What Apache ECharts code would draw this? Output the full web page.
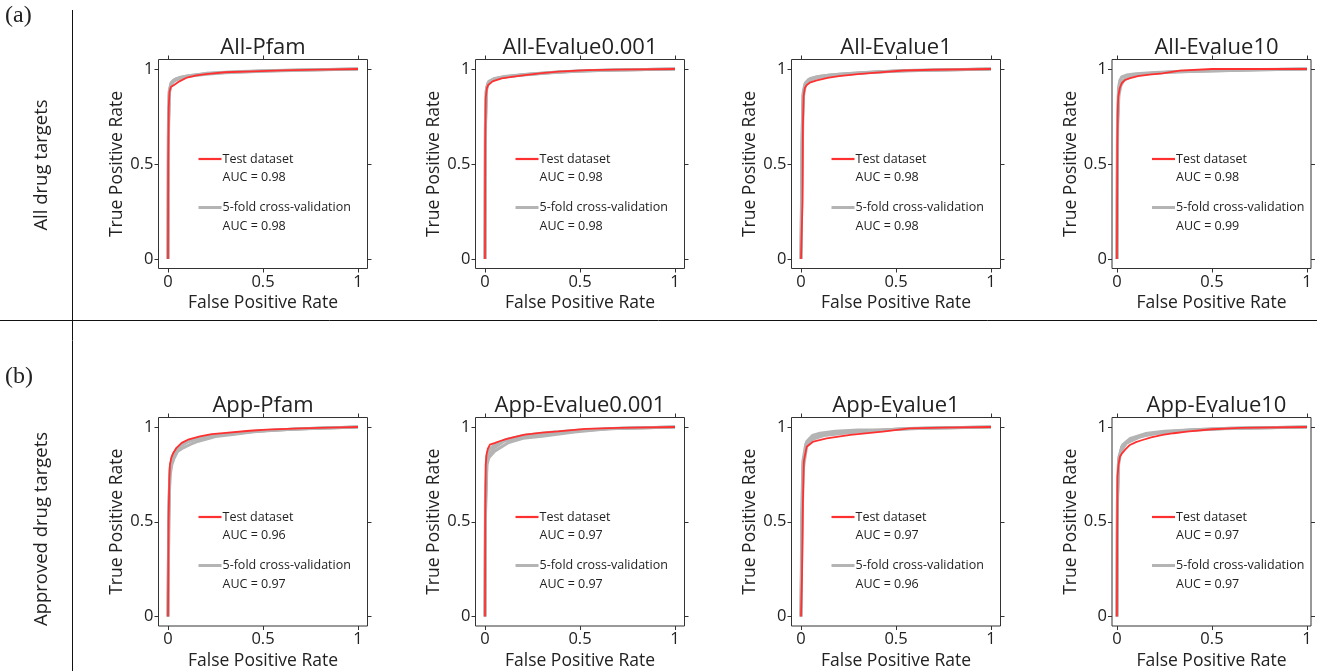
<!DOCTYPE html>
<html>
<head>
<meta charset="utf-8">
<script src="https://cdn.jsdelivr.net/npm/echarts@6/dist/echarts.min.js"></script>
<style>html,body{margin:0;padding:0;background:#fff}#c{width:1317px;height:671px}</style>
</head>
<body>
<div id="c"></div>
<script>
// ---------------- DATA ----------------
const titles = ["All-Pfam","All-Evalue0.001","All-Evalue1","All-Evalue10","App-Pfam","App-Evalue0.001","App-Evalue1","App-Evalue10"];
const testAUC = [0.98,0.98,0.98,0.98,0.96,0.97,0.97,0.97];
const cvAUC   = [0.98,0.98,0.98,0.99,0.97,0.97,0.96,0.97];
const tickValues = [0, 0.5, 1];
const rowLabels = ["All drug targets","Approved drug targets"];
const panelTags = ["(a)","(b)"];

// All-Pfam
const allPfamTest = [[0,0],[0.001,0.5],[0.004,0.8],[0.008,0.88],[0.015,0.905],[0.03,0.915],[0.06,0.935],[0.1,0.955],[0.15,0.966],[0.2,0.973],[0.3,0.983],[0.45,0.988],[0.6,0.993],[0.8,0.997],[1,1]];
const allPfamCV1 = [[0,0],[0.002,0.7],[0.006,0.88],[0.015,0.925],[0.03,0.942],[0.06,0.955],[0.1,0.963],[0.2,0.975],[0.3,0.982],[0.5,0.99],[0.7,0.995],[1,1]];
const allPfamCV2 = [[0,0],[0.002,0.65],[0.007,0.87],[0.015,0.915],[0.03,0.935],[0.06,0.95],[0.1,0.96],[0.2,0.972],[0.3,0.98],[0.5,0.988],[0.7,0.994],[1,1]];
const allPfamCV3 = [[0,0],[0.003,0.72],[0.008,0.89],[0.02,0.93],[0.04,0.948],[0.08,0.958],[0.12,0.966],[0.2,0.977],[0.35,0.985],[0.5,0.991],[0.75,0.996],[1,1]];
// All-Evalue0.001
const allE0001Test = [[0,0],[0.001,0.6],[0.004,0.85],[0.01,0.9],[0.017,0.916],[0.04,0.935],[0.088,0.951],[0.15,0.96],[0.21,0.968],[0.3,0.978],[0.385,0.986],[0.54,0.994],[0.7,0.997],[1,1]];
const allE0001CV1 = [[0,0],[0.002,0.7],[0.006,0.88],[0.015,0.925],[0.04,0.945],[0.09,0.957],[0.2,0.97],[0.35,0.982],[0.5,0.99],[0.7,0.995],[1,1]];
const allE0001CV2 = [[0,0],[0.002,0.68],[0.007,0.89],[0.02,0.93],[0.05,0.948],[0.1,0.958],[0.2,0.968],[0.35,0.98],[0.5,0.989],[0.7,0.995],[1,1]];
const allE0001CV3 = [[0,0],[0.003,0.72],[0.008,0.9],[0.02,0.935],[0.05,0.95],[0.1,0.96],[0.22,0.972],[0.4,0.985],[0.6,0.993],[1,1]];
// All-Evalue1
const allE1Test = [[0,0],[0.008,0.3],[0.01,0.7],[0.014,0.86],[0.02,0.9],[0.03,0.916],[0.05,0.93],[0.083,0.94],[0.14,0.953],[0.2,0.963],[0.3,0.973],[0.38,0.98],[0.54,0.992],[0.7,0.996],[1,1]];
const allE1CV1 = [[0,0],[0.005,0.6],[0.01,0.86],[0.02,0.92],[0.04,0.945],[0.08,0.958],[0.15,0.968],[0.25,0.976],[0.4,0.985],[0.6,0.993],[1,1]];
const allE1CV2 = [[0,0],[0.006,0.65],[0.012,0.88],[0.025,0.93],[0.05,0.95],[0.1,0.962],[0.2,0.972],[0.35,0.982],[0.55,0.991],[1,1]];
const allE1CV3 = [[0,0],[0.007,0.6],[0.012,0.85],[0.022,0.91],[0.04,0.938],[0.08,0.952],[0.15,0.965],[0.3,0.978],[0.5,0.99],[1,1]];
// All-Evalue10
const allE10Test = [[0,0],[0.002,0.6],[0.005,0.8],[0.007,0.854],[0.015,0.9],[0.025,0.925],[0.042,0.942],[0.07,0.952],[0.11,0.963],[0.17,0.97],[0.24,0.977],[0.33,0.991],[0.5,1],[1,1]];
const allE10CV1 = [[0,0],[0.003,0.75],[0.008,0.9],[0.015,0.94],[0.025,0.958],[0.05,0.968],[0.1,0.975],[0.2,0.982],[0.35,0.988],[0.55,0.993],[0.75,0.997],[1,1]];
const allE10CV2 = [[0,0],[0.003,0.72],[0.01,0.88],[0.02,0.925],[0.04,0.95],[0.08,0.965],[0.15,0.975],[0.3,0.985],[0.5,0.99],[0.75,0.996],[1,1]];
const allE10CV3 = [[0,0],[0.004,0.7],[0.01,0.86],[0.02,0.91],[0.035,0.94],[0.07,0.96],[0.12,0.972],[0.25,0.982],[0.45,0.99],[0.7,0.995],[1,1]];
// App-Pfam
const appPfamTest = [[0,0],[0.003,0.5],[0.007,0.72],[0.01,0.8],[0.018,0.84],[0.028,0.863],[0.045,0.89],[0.072,0.916],[0.11,0.935],[0.168,0.951],[0.23,0.962],[0.29,0.968],[0.43,0.98],[0.52,0.986],[0.7,0.993],[0.85,0.997],[1,1]];
const appPfamCV1 = [[0,0],[0.004,0.5],[0.01,0.74],[0.02,0.8],[0.03,0.83],[0.05,0.87],[0.08,0.89],[0.12,0.91],[0.16,0.925],[0.25,0.95],[0.34,0.96],[0.45,0.975],[0.6,0.985],[0.8,0.995],[1,1]];
const appPfamCV2 = [[0,0],[0.004,0.55],[0.01,0.77],[0.02,0.83],[0.035,0.865],[0.06,0.895],[0.1,0.92],[0.15,0.938],[0.25,0.955],[0.35,0.967],[0.5,0.98],[0.7,0.99],[1,1]];
const appPfamCV3 = [[0,0],[0.005,0.6],[0.012,0.79],[0.025,0.85],[0.045,0.885],[0.07,0.905],[0.11,0.925],[0.18,0.945],[0.3,0.962],[0.45,0.977],[0.65,0.988],[1,1]];
// App-Evalue0.001
const appE0001Test = [[0,0],[0.001,0.5],[0.004,0.8],[0.008,0.854],[0.015,0.885],[0.026,0.907],[0.053,0.916],[0.08,0.926],[0.12,0.938],[0.21,0.96],[0.3,0.97],[0.385,0.977],[0.53,0.99],[0.7,0.995],[1,1]];
const appE0001CV1 = [[0,0],[0.003,0.55],[0.01,0.8],[0.02,0.837],[0.053,0.874],[0.12,0.916],[0.2,0.94],[0.3,0.951],[0.47,0.974],[0.65,0.99],[1,1]];
const appE0001CV2 = [[0,0],[0.003,0.6],[0.01,0.82],[0.025,0.86],[0.05,0.89],[0.1,0.925],[0.2,0.95],[0.3,0.962],[0.45,0.978],[0.65,0.99],[1,1]];
const appE0001CV3 = [[0,0],[0.002,0.6],[0.008,0.84],[0.02,0.88],[0.05,0.905],[0.1,0.93],[0.2,0.955],[0.35,0.972],[0.5,0.984],[0.7,0.993],[1,1]];
// App-Evalue1
const appE1Test = [[0,0],[0.005,0.2],[0.01,0.6],[0.015,0.82],[0.03,0.896],[0.065,0.923],[0.135,0.94],[0.26,0.958],[0.43,0.975],[0.57,0.993],[0.75,0.997],[1,1]];
const appE1CV1 = [[0,0],[0.005,0.5],[0.01,0.8],[0.03,0.923],[0.06,0.955],[0.1,0.967],[0.18,0.978],[0.3,0.984],[0.45,0.986],[0.6,0.993],[1,1]];
const appE1CV2 = [[0,0],[0.004,0.55],[0.01,0.82],[0.025,0.91],[0.05,0.94],[0.1,0.958],[0.2,0.97],[0.35,0.98],[0.5,0.988],[0.7,0.995],[1,1]];
const appE1CV3 = [[0,0],[0.006,0.5],[0.012,0.78],[0.03,0.9],[0.06,0.935],[0.12,0.955],[0.25,0.97],[0.4,0.982],[0.55,0.99],[1,1]];
// App-Evalue10
const appE10Test = [[0,0],[0.001,0.4],[0.003,0.738],[0.008,0.8],[0.016,0.844],[0.03,0.865],[0.042,0.879],[0.068,0.905],[0.1,0.92],[0.13,0.93],[0.18,0.945],[0.24,0.958],[0.3,0.967],[0.367,0.975],[0.5,0.988],[0.65,0.995],[1,1]];
const appE10CV1 = [[0,0],[0.003,0.6],[0.008,0.82],[0.025,0.896],[0.068,0.93],[0.156,0.958],[0.26,0.975],[0.4,0.985],[0.6,0.993],[1,1]];
const appE10CV2 = [[0,0],[0.003,0.65],[0.01,0.84],[0.03,0.905],[0.07,0.94],[0.15,0.965],[0.25,0.978],[0.4,0.986],[0.6,0.993],[1,1]];
const appE10CV3 = [[0,0],[0.002,0.6],[0.008,0.8],[0.02,0.87],[0.05,0.915],[0.12,0.948],[0.2,0.965],[0.35,0.98],[0.55,0.99],[1,1]];

const testCurves = [allPfamTest, allE0001Test, allE1Test, allE10Test, appPfamTest, appE0001Test, appE1Test, appE10Test];
const cvCurves = [
  [allPfamCV1, allPfamCV2, allPfamCV3],
  [allE0001CV1, allE0001CV2, allE0001CV3],
  [allE1CV1, allE1CV2, allE1CV3],
  [allE10CV1, allE10CV2, allE10CV3],
  [appPfamCV1, appPfamCV2, appPfamCV3],
  [appE0001CV1, appE0001CV2, appE0001CV3],
  [appE1CV1, appE1CV2, appE1CV3],
  [appE10CV1, appE10CV2, appE10CV3]
];

// ---------------- LAYOUT ----------------
const FONT = "Open Sans";
const TXT = '#222';
const colLeft = [158.5, 475.5, 791.5, 1112];
const colWidth = [209, 209, 209, 199];
const colXMin = [-0.05, -0.05, -0.05, -0.026];
const colXMax = [1.05, 1.05, 1.05, 1.021];
const rowTop = [59.5, 417.5];
const boxH = 209;
const yMin = -0.05, yMax = 1.05;

const chart = echarts.init(document.getElementById('c'), null, {renderer: 'canvas'});

const grids = [], xAxes = [], yAxes = [], series = [], graphics = [];
const tickStyle = {show: true, inside: false, length: 4, customValues: tickValues, lineStyle: {color: '#333', width: 1}};
const noLine = {show: false, onZero: false};

for (let p = 0; p < 8; p++) {
  const r = Math.floor(p / 4), c = p % 4;
  const left = colLeft[c], top = rowTop[r], w = colWidth[c];
  grids.push({left: left, top: top, width: w, height: boxH, show: true, borderColor: '#333', borderWidth: 1, backgroundColor: 'transparent'});
  const xb = {
    type: 'value', gridIndex: p, min: colXMin[c], max: colXMax[c], position: 'bottom',
    axisLine: noLine, splitLine: {show: false}, axisTick: tickStyle,
    axisLabel: {show: true, customValues: tickValues, fontSize: 16.5, fontFamily: FONT, color: TXT, margin: 5, formatter: v => String(v)},
    name: 'False Positive Rate', nameLocation: 'middle', nameGap: 26,
    nameTextStyle: {fontSize: 17.5, fontFamily: FONT, color: TXT}
  };
  const xt = {
    type: 'value', gridIndex: p, min: colXMin[c], max: colXMax[c], position: 'top',
    axisLine: noLine, splitLine: {show: false}, axisTick: tickStyle, axisLabel: {show: false}
  };
  const yl = {
    type: 'value', gridIndex: p, min: yMin, max: yMax, position: 'left',
    axisLine: noLine, splitLine: {show: false}, axisTick: tickStyle,
    axisLabel: {show: true, customValues: tickValues, fontSize: 16.5, fontFamily: FONT, color: TXT, margin: 5, formatter: v => String(v)},
    name: 'True Positive Rate', nameLocation: 'middle', nameGap: 31,
    nameTextStyle: {fontSize: 17.5, fontFamily: FONT, color: TXT}
  };
  const yr = {
    type: 'value', gridIndex: p, min: yMin, max: yMax, position: 'right',
    axisLine: noLine, splitLine: {show: false}, axisTick: tickStyle, axisLabel: {show: false}
  };
  const xi = xAxes.length; xAxes.push(xb, xt);
  const yi = yAxes.length; yAxes.push(yl, yr);

  cvCurves[p].forEach((d, k) => {
    series.push({type: 'line', name: 'cv' + p + '_' + k, xAxisIndex: xi, yAxisIndex: yi, data: d,
      showSymbol: false, symbol: 'none', smooth: false, z: 2,
      lineStyle: {color: '#b4b4b4', width: 3}, silent: true});
  });
  series.push({type: 'line', name: 'test' + p, xAxisIndex: xi, yAxisIndex: yi, data: testCurves[p],
    showSymbol: false, symbol: 'none', z: 3, lineStyle: {color: '#ff3030', width: 1.8}, silent: true});

  // title
  graphics.push({type: 'text', x: left + w / 2 + (c === 3 ? 5 : 0), y: top - 11.5, style: {text: titles[p], font: '22px "' + FONT + '"', fill: TXT, align: 'center', verticalAlign: 'middle'}});
  // legend
  const lx = left + 40, ly = top + 99.5;
  const lf = '12.5px "' + FONT + '"';
  graphics.push({type: 'line', shape: {x1: lx, y1: ly, x2: lx + 23, y2: ly}, style: {stroke: '#ff3030', lineWidth: 2.2}});
  graphics.push({type: 'text', x: lx + 24, y: ly, style: {text: 'Test dataset', font: lf, fill: TXT, align: 'left', verticalAlign: 'middle'}});
  graphics.push({type: 'text', x: lx + 24, y: ly + 18.5, style: {text: 'AUC = ' + testAUC[p].toFixed(2), font: lf, fill: TXT, align: 'left', verticalAlign: 'middle'}});
  graphics.push({type: 'line', shape: {x1: lx, y1: ly + 48.5, x2: lx + 23, y2: ly + 48.5}, style: {stroke: '#b4b4b4', lineWidth: 3}});
  graphics.push({type: 'text', x: lx + 24, y: ly + 48, style: {text: '5-fold cross-validation', font: lf, fill: TXT, align: 'left', verticalAlign: 'middle'}});
  graphics.push({type: 'text', x: lx + 24, y: ly + 67, style: {text: 'AUC = ' + cvAUC[p].toFixed(2), font: lf, fill: TXT, align: 'left', verticalAlign: 'middle'}});
}

// dividers and row labels
graphics.push({type: 'line', shape: {x1: 72.5, y1: 10, x2: 72.5, y2: 671}, style: {stroke: '#111', lineWidth: 1}});
graphics.push({type: 'line', shape: {x1: 0, y1: 320.5, x2: 1317, y2: 320.5}, style: {stroke: '#111', lineWidth: 1}});
graphics.push({type: 'text', x: 5, y: 16, style: {text: panelTags[0], font: '24px "Liberation Serif"', fill: TXT, align: 'left', verticalAlign: 'middle'}});
graphics.push({type: 'text', x: 5, y: 377, style: {text: panelTags[1], font: '24px "Liberation Serif"', fill: TXT, align: 'left', verticalAlign: 'middle'}});
graphics.push({type: 'text', x: 42, y: 165, rotation: Math.PI / 2, style: {text: rowLabels[0], font: '18.5px "' + FONT + '"', fill: TXT, align: 'center', verticalAlign: 'middle'}});
graphics.push({type: 'text', x: 42, y: 529, rotation: Math.PI / 2, style: {text: rowLabels[1], font: '18.5px "' + FONT + '"', fill: TXT, align: 'center', verticalAlign: 'middle'}});

chart.setOption({
  animation: false,
  backgroundColor: '#fff',
  grid: grids, xAxis: xAxes, yAxis: yAxes, series: series,
  graphic: graphics
});
</script>
</body>
</html>
